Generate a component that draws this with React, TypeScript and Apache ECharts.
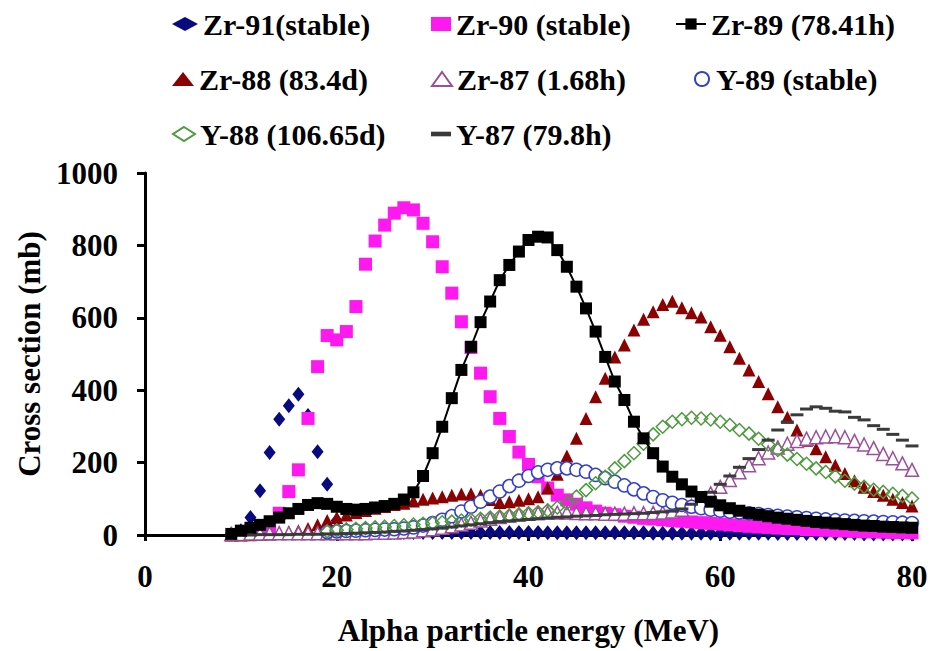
import React, { useEffect, useRef } from "react";
import * as echarts from "echarts";

// Alpha particle energy (MeV), one point per MeV
const energies = [
  9, 10, 11, 12, 13, 14, 15, 16, 17, 18,
  19, 20, 21, 22, 23, 24, 25, 26, 27, 28,
  29, 30, 31, 32, 33, 34, 35, 36, 37, 38,
  39, 40, 41, 42, 43, 44, 45, 46, 47, 48,
  49, 50, 51, 52, 53, 54, 55, 56, 57, 58,
  59, 60, 61, 62, 63, 64, 65, 66, 67, 68,
  69, 70, 71, 72, 73, 74, 75, 76, 77, 78,
  79, 80,
];

// Cross sections (mb)
const zr91 = [
  3, 12, 48, 122, 228, 320, 357, 389, 330, 230,
  140, 40, 15, 10, 9, 8, 8, 7, 7, 7,
  7, 7, 7, 7, 7, 7, 7, 7, 7, 7,
  7, 7, 7, 6, 6, 6, 6, 6, 6, 6,
  6, 6, 6, 6, 5, 5, 5, 5, 5, 5,
  5, 5, 5, 5, 5, 5, 5, 4, 4, 4,
  4, 4, 4, 4, 4, 4, 3, 3, 3, 3,
  3, 3,
];
const zr90 = [
  null, null, null, 8, 22, 60, 120, 180, 322, 465,
  551, 539, 562, 631, 748, 812, 856, 889, 904, 898,
  861, 810, 741, 668, 589, 518, 447, 382, 322, 272,
  229, 195, 161, 130, 110, 97, 85, 75, 66, 60,
  56, 52, 49, 46, 44, 42, 40, 38, 36, 34,
  32, 30, 28, 26, 24, 22, 21, 19, 18, 17,
  15, 14, 13, 12, 11, 10, 9, 9, 8, 7,
  7, 6,
];
const zr89 = [
  3, 12, 20, 28, 38, 48, 60, 72, 83, 88,
  86, 78, 72, 70, 72, 76, 80, 86, 98, 118,
  163, 226, 299, 378, 456, 520, 588, 645, 704, 746,
  783, 815, 824, 822, 787, 741, 686, 626, 562, 492,
  424, 373, 313, 267, 226, 189, 161, 140, 120, 105,
  92, 82, 74, 67, 61, 56, 52, 48, 45, 42,
  39, 36, 34, 32, 30, 28, 26, 25, 23, 22,
  21, 20,
];
const zr88 = [
  0, 0, 1, 2, 3, 5, 8, 12, 18, 28,
  40, 48, 55, 62, 68, 74, 79, 84, 88, 94,
  99, 102, 106, 110, 113, 114, 110, 98, 90, 92,
  96, 100, 106, 130, 168, 218, 267, 322, 382, 433,
  492, 525, 566, 596, 617, 637, 646, 628, 614, 602,
  575, 552, 520, 488, 456, 424, 390, 354, 325, 290,
  262, 238, 216, 193, 170, 150, 132, 120, 110, 99,
  90, 80,
];
const zr87 = [
  2, 3, 4, 4, 5, 5, 5, 5, 5, 5,
  5, 5, 5, 5, 5, 6, 6, 7, 8, 10,
  13, 16, 20, 24, 29, 34, 40, 45, 50, 54,
  57, 59, 61, 62, 62, 62, 61, 60, 60, 59,
  59, 59, 60, 60, 61, 62, 65, 70, 80, 96,
  115, 133, 152, 173, 193, 212, 228, 242, 252, 260,
  266, 270, 272, 273, 270, 260, 250, 240, 224, 212,
  198, 180,
];
const y89 = [
  null, null, null, null, null, null, null, null, null, null,
  8, 10, 11, 12, 13, 14, 15, 16, 18, 21,
  26, 33, 42, 52, 65, 78, 92, 106, 120, 135,
  150, 163, 173, 180, 184, 184, 180, 175, 166, 157,
  147, 137, 126, 115, 105, 96, 89, 83, 78, 74,
  70, 67, 64, 62, 60, 58, 55, 53, 51, 49,
  47, 45, 43, 41, 40, 39, 38, 37, 36, 35,
  34, 33,
];
const y88 = [
  null, null, null, null, null, null, null, null, null, null,
  10, 13, 15, 17, 19, 21, 23, 25, 27, 29,
  31, 33, 35, 37, 40, 42, 45, 48, 51, 54,
  57, 60, 63, 68, 76, 88, 106, 124, 143, 161,
  184, 204, 226, 252, 278, 299, 313, 320, 324, 322,
  319, 313, 304, 290, 280, 266, 250, 235, 222, 210,
  197, 184, 174, 162, 150, 142, 133, 125, 119, 114,
  108, 101,
];
const y87 = [
  0, 0, 0, 1, 1, 1, 1, 2, 2, 2,
  3, 3, 4, 5, 6, 7, 8, 10, 11, 13,
  15, 17, 19, 22, 25, 28, 31, 34, 37, 39,
  41, 43, 45, 47, 49, 50, 52, 53, 54, 56,
  57, 58, 59, 60, 62, 64, 66, 72, 85, 100,
  118, 140, 163, 187, 211, 236, 262, 290, 312, 332,
  348, 354, 350, 342, 340, 325, 318, 302, 292, 278,
  262, 246,
];

const xTicks = [0, 20, 40, 60, 80];
const yTicks = [0, 200, 400, 600, 800, 1000];

const FONT = "Liberation Serif";
const DASH = "path://M0 0H13V3H0Z";

function pairs(vals: (number | null)[]) {
  const out: number[][] = [];
  energies.forEach((e, i) => {
    const v = vals[i];
    if (v !== null && v !== undefined) out.push([e, v]);
  });
  return out;
}

const seriesDefs = [
  { name: "Zr-91(stable)", vals: zr91, type: "scatter", symbol: "diamond", size: [12, 15], fill: "#0A0A80", stroke: "#0A0A80" },
  { name: "Zr-90 (stable)", vals: zr90, type: "scatter", symbol: "rect", size: 13, fill: "#FF19F0", stroke: "#FF19F0" },
  { name: "Zr-89 (78.41h)", vals: zr89, type: "line", symbol: "rect", size: 12, fill: "#000000", stroke: "#000000" },
  { name: "Zr-88 (83.4d)", vals: zr88, type: "scatter", symbol: "triangle", size: 13, fill: "#8B0000", stroke: "#8B0000" },
  { name: "Zr-87 (1.68h)", vals: zr87, type: "scatter", symbol: "triangle", size: 13, fill: "#FFFFFF", stroke: "#9B4F9B", open: true },
  { name: "Y-89 (stable)", vals: y89, type: "scatter", symbol: "circle", size: 13, fill: "#FFFFFF", stroke: "#3340C8", open: true },
  { name: "Y-88 (106.65d)", vals: y88, type: "scatter", symbol: "diamond", size: 13, fill: "rgba(255,255,255,0)", stroke: "#4E9A3F", open: true },
  { name: "Y-87 (79.8h)", vals: y87, type: "scatter", symbol: DASH, size: [13, 3], fill: "#3A3A3A", stroke: "#3A3A3A" },
];

// legend placement: icon centre x, row centre y, text start x
const legendPlaces = [
  { name: "Zr-91(stable)", cx: 185, cy: 24, tx: 203 },
  { name: "Zr-90 (stable)", cx: 441, cy: 24, tx: 456 },
  { name: "Zr-89 (78.41h)", cx: 690, cy: 24, tx: 710 },
  { name: "Zr-88 (83.4d)", cx: 183, cy: 79, tx: 199 },
  { name: "Zr-87 (1.68h)", cx: 441, cy: 79, tx: 456 },
  { name: "Y-89 (stable)", cx: 703, cy: 79, tx: 717 },
  { name: "Y-88 (106.65d)", cx: 183, cy: 134, tx: 199 },
  { name: "Y-87 (79.8h)", cx: 441, cy: 134, tx: 456 },
];

export default function App() {
  const ref = useRef<HTMLDivElement>(null);

  useEffect(() => {
    if (!ref.current) return;
    const chart = echarts.init(ref.current, undefined, { renderer: "svg" });

    const textBase = { fontFamily: FONT, fontWeight: "bold", color: "#000" };

    const series = seriesDefs.map((d) => {
      const base: any = {
        name: d.name,
        type: d.type,
        data: pairs(d.vals),
        symbol: d.symbol,
        symbolSize: d.size,
        itemStyle: d.open
          ? { color: d.fill, borderColor: d.stroke, borderWidth: 1.5, opacity: 1 }
          : { color: d.fill, opacity: 1 },
        emphasis: { disabled: true },
        animation: false,
      };
      if (d.type === "line") {
        base.showSymbol = true;
        base.showAllSymbol = true;
        base.lineStyle = { color: "#000", width: 2 };
        base.connectNulls = false;
      }
      return base;
    });

    const legends = legendPlaces.map((p) => {
      const w = p.name.startsWith("Zr-89") ? 30 : Math.max(14, 2 * (p.tx - p.cx - 5));
      return {
        data: [p.name],
        left: p.cx - w / 2,
        top: p.cy - 15,
        padding: 0,
        itemWidth: w,
        itemHeight: 14,
        selectedMode: false,
        textStyle: { ...textBase, fontSize: 30, lineHeight: 30 },
      };
    });

    chart.setOption({
      animation: false,
      backgroundColor: "#ffffff",
      textStyle: { fontFamily: FONT },
      grid: { left: 145, right: 18, top: 173, bottom: 116, containLabel: false, outerBoundsMode: "none" },
      legend: legends,
      xAxis: {
        type: "value",
        min: xTicks[0],
        max: xTicks[xTicks.length - 1],
        interval: xTicks[1] - xTicks[0],
        axisLine: { show: true, onZero: false, lineStyle: { color: "#000", width: 3 } },
        axisTick: { show: true, inside: false, length: 6, lineStyle: { color: "#000", width: 3 } },
        axisLabel: { ...textBase, fontSize: 31, margin: 26, formatter: (v: number) => String(v) },
        splitLine: { show: false },
        name: "Alpha particle energy (MeV)",
        nameLocation: "middle",
        nameGap: 80,
        nameTextStyle: { ...textBase, fontSize: 31 },
      },
      yAxis: {
        type: "value",
        min: yTicks[0],
        max: yTicks[yTicks.length - 1],
        interval: yTicks[1] - yTicks[0],
        axisLine: { show: true, lineStyle: { color: "#000", width: 3 } },
        axisTick: { show: true, inside: false, length: 8, lineStyle: { color: "#000", width: 3 } },
        axisLabel: { ...textBase, fontSize: 31, margin: 27, formatter: (v: number) => String(v) },
        splitLine: { show: false },
        name: "Cross section (mb)",
        nameLocation: "middle",
        nameRotate: 90,
        nameGap: 100,
        nameTextStyle: { ...textBase, fontSize: 31 },
      },
      series,
    });

    return () => {
      chart.dispose();
    };
  }, []);

  return (
    <div
      ref={ref}
      style={{ position: "fixed", left: 0, top: 0, width: 930, height: 651, background: "#fff" }}
    />
  );
}
